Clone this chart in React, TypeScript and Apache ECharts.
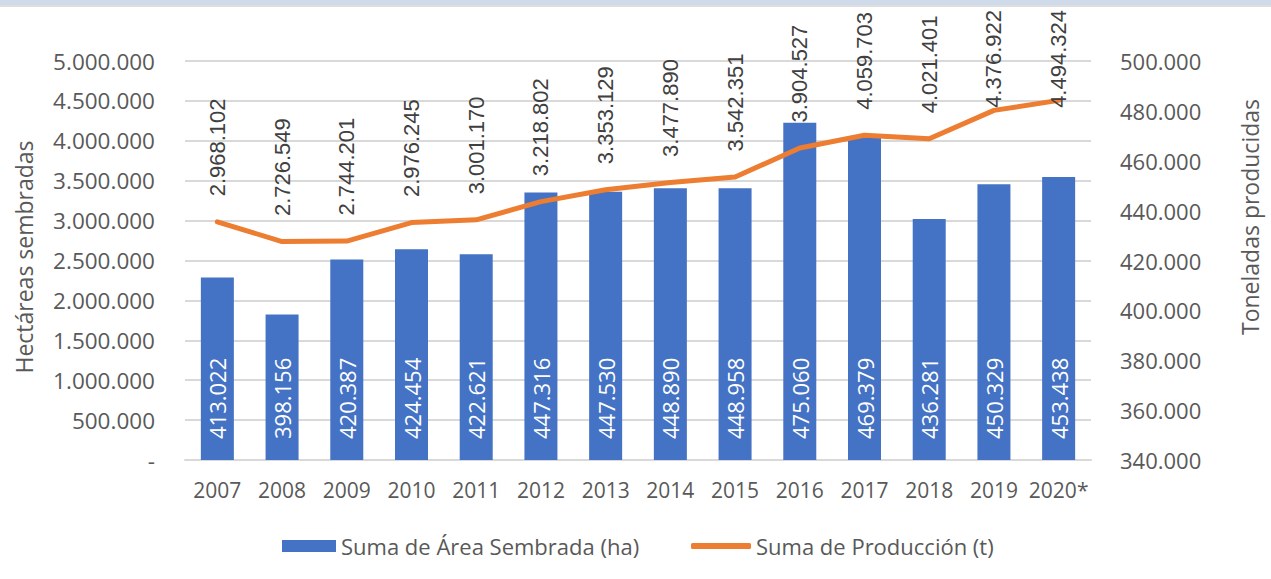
import React, { useEffect, useRef } from 'react';
import * as echarts from 'echarts';

const years = ['2007', '2008', '2009', '2010', '2011', '2012', '2013', '2014', '2015', '2016', '2017', '2018', '2019', '2020*'];
// Bar heights (left axis, hectáreas)
const areaSembrada = [2286000, 1822000, 2513000, 2640000, 2579000, 3352000, 3362000, 3405000, 3405000, 4225000, 4053000, 3020000, 3455000, 3547000];
// Line values (right axis, toneladas)
const produccion = [435500, 427600, 427800, 435200, 436300, 443600, 448400, 451300, 453500, 465100, 470200, 468800, 480200, 484200];
// Data labels as printed in the chart
const areaLabels = [413022, 398156, 420387, 424454, 422621, 447316, 447530, 448890, 448958, 475060, 469379, 436281, 450329, 453438];
const produccionLabels = [2968102, 2726549, 2744201, 2976245, 3001170, 3218802, 3353129, 3477890, 3542351, 3904527, 4059703, 4021401, 4376922, 4494324];

const leftMin = 0;
const leftMax = 5000000;
const leftInterval = 500000;
const rightMin = 340000;
const rightMax = 500000;
const rightInterval = 20000;

const barName = 'Suma de Área Sembrada (ha)';
const lineName = 'Suma de Producción (t)';
const leftTitle = 'Hectáreas sembradas';
const rightTitle = 'Toneladas producidas';

function fmt(n: number): string {
  return String(Math.round(n)).replace(/\B(?=(\d{3})+(?!\d))/g, '.');
}

const FONT = 'Open Sans';
const GREY = '#595959';

export default function App() {
  const ref = useRef<HTMLDivElement>(null);
  useEffect(() => {
    if (!ref.current) return;
    const chart = echarts.init(ref.current, null, { renderer: 'svg' });
    chart.setOption({
      animation: false,
      backgroundColor: '#ffffff',
      textStyle: { fontFamily: FONT },
      grid: { left: 185, right: 180, top: 61, bottom: 119 },
      graphic: [
        { type: 'rect', shape: { x: 0, y: 0, width: 1271, height: 5 }, style: { fill: '#cfdaeb' }, silent: true },
        { type: 'rect', shape: { x: 0, y: 5, width: 1271, height: 2 }, style: { fill: '#dedede' }, silent: true },
        {
          type: 'text', x: 24, y: 257, rotation: Math.PI / 2,
          style: { text: leftTitle, fontSize: 23, fontFamily: FONT, fill: GREY, align: 'center', verticalAlign: 'middle' },
        },
        {
          type: 'text', x: 1250, y: 217, rotation: Math.PI / 2,
          style: { text: rightTitle, fontSize: 23, fontFamily: FONT, fill: GREY, align: 'center', verticalAlign: 'middle' },
        },
      ],
      legend: [
        {
          data: [{ name: barName, icon: 'rect' }],
          left: 277, top: 530, itemWidth: 54, itemHeight: 12, itemGap: 0,
          textStyle: { color: GREY, fontSize: 22, fontFamily: FONT },
        },
        {
          data: [{ name: lineName, icon: 'roundRect' }],
          left: 686, top: 530, itemWidth: 60, itemHeight: 6, itemGap: 0,
          textStyle: { color: GREY, fontSize: 22, fontFamily: FONT },
        },
      ],
      xAxis: {
        type: 'category',
        data: years,
        axisLine: { lineStyle: { color: '#d9d9d9', width: 2 } },
        axisTick: { show: false },
        axisLabel: { color: GREY, fontSize: 21, margin: 19, interval: 0, fontFamily: FONT },
      },
      yAxis: [
        {
          type: 'value', min: leftMin, max: leftMax, interval: leftInterval,
          axisLine: { show: false }, axisTick: { show: false },
          axisLabel: { color: GREY, fontSize: 22.5, margin: 30, fontFamily: FONT, formatter: (v: number) => (v === 0 ? '-' : fmt(v)) },
          splitLine: { lineStyle: { color: '#d9d9d9', width: 2 } },
        },
        {
          type: 'value', min: rightMin, max: rightMax, interval: rightInterval,
          axisLine: { show: false }, axisTick: { show: false },
          axisLabel: { color: GREY, fontSize: 22, margin: 29, fontFamily: FONT, formatter: (v: number) => fmt(v) },
          splitLine: { show: false },
        },
      ],
      series: [
        {
          name: barName, type: 'bar', yAxisIndex: 0, data: areaSembrada, barWidth: 33,
          itemStyle: { color: '#4472c4' },
          label: {
            show: true, position: 'insideBottom', rotate: 90, align: 'left', verticalAlign: 'middle', distance: 21,
            color: '#ffffff', fontSize: 22, fontFamily: FONT,
            formatter: (p: any) => fmt(areaLabels[p.dataIndex]),
          },
        },
        {
          name: lineName, type: 'line', yAxisIndex: 1, data: produccion, z: 3,
          symbol: 'circle', symbolSize: 1, showSymbol: true,
          itemStyle: { color: '#ed7d31' },
          lineStyle: { color: '#ed7d31', width: 5, cap: 'round', join: 'round' },
          label: {
            show: true, position: 'top', rotate: 90, align: 'left', verticalAlign: 'middle', distance: 25,
            color: '#404040', fontSize: 22, fontFamily: 'Liberation Sans',
            formatter: (p: any) => fmt(produccionLabels[p.dataIndex]),
          },
          labelLayout: (params: any) => {
            const r = params.labelRect;
            if (r && r.y < 10) {
              return { y: 10 + r.height };
            }
            return {};
          },
        },
      ],
    });
    return () => chart.dispose();
  }, []);
  return <div ref={ref} style={{ position: 'fixed', left: 0, top: 0, width: 1271, height: 579 }} />;
}
